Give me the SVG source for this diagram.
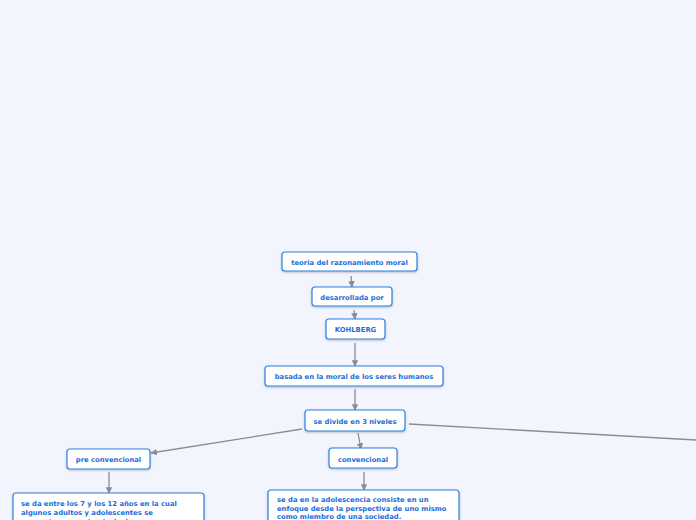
<svg xmlns="http://www.w3.org/2000/svg" width="696" height="520" viewBox="0 0 696 520">
<defs>
<marker id="ah" viewBox="0 0 10 10" refX="9" refY="5" markerWidth="5" markerHeight="5" orient="auto"><path d="M0,0 L10,5 L0,10 z" fill="#8a8c92"/></marker>
<filter id="sh" x="-10%" y="-20%" width="120%" height="150%"><feDropShadow dx="0" dy="1" stdDeviation="0.8" flood-color="#000" flood-opacity="0.25"/></filter>
</defs>
<style>
.n{fill:#fff;stroke:#2f80e0;stroke-width:1.2;filter:url(#sh)}
.t{font-family:"DejaVu Sans",Verdana,sans-serif;font-size:6.8px;font-weight:bold;fill:#1a6ed8}
.c{text-anchor:middle}
.e{stroke:#8a8c92;stroke-width:1.3;fill:none}
</style>
<rect width="696" height="520" fill="#f2f5fe"/>
<g id="connectors">
<line class="e" x1="351" y1="276" x2="352" y2="287" marker-end="url(#ah)"/>
<line class="e" x1="354" y1="310" x2="355" y2="319" marker-end="url(#ah)"/>
<line class="e" x1="355" y1="343" x2="355" y2="366" marker-end="url(#ah)"/>
<line class="e" x1="355" y1="389" x2="355" y2="410" marker-end="url(#ah)"/>
<line class="e" x1="358" y1="433" x2="361" y2="449" marker-end="url(#ah)"/>
<line class="e" x1="302" y1="429" x2="151" y2="453" marker-end="url(#ah)"/>
<line class="e" x1="409" y1="424" x2="696" y2="440"/>
<line class="e" x1="109" y1="472" x2="109" y2="493" marker-end="url(#ah)"/>
<line class="e" x1="364" y1="472" x2="364" y2="490" marker-end="url(#ah)"/>
</g>
<g id="n1"><rect class="n" x="282" y="252" width="135" height="19" rx="3"/><text class="t c" x="349.5" y="264.5">teoria del razonamiento moral</text></g>
<g id="n2"><rect class="n" x="312" y="287" width="80" height="19" rx="3"/><text class="t c" x="352" y="299.5">desarrollada por</text></g>
<g id="n3"><rect class="n" x="326" y="319" width="59" height="20" rx="3"/><text class="t c" x="355.5" y="332">KOHLBERG</text></g>
<g id="n4"><rect class="n" x="265" y="366" width="178" height="20" rx="3"/><text class="t c" x="354" y="379">basada en la moral de los seres humanos</text></g>
<g id="n5"><rect class="n" x="305" y="410" width="100" height="21" rx="3"/><text class="t c" x="355" y="423.5">se divide en 3 niveles</text></g>
<g id="n6"><rect class="n" x="329" y="448" width="68" height="20" rx="3"/><text class="t c" x="363" y="461.5">convencional</text></g>
<g id="n7"><rect class="n" x="67" y="449" width="83" height="20" rx="3"/><text class="t c" x="108.5" y="462">pre convencional</text></g>
<g id="n8"><rect class="n" x="13" y="493" width="191" height="40" rx="3"/><text class="t" x="21" y="506">se da entre los 7 y los 12 años en la cual</text><text class="t" x="21" y="515">algunos adultos y adolescentes se</text><text class="t" x="21" y="524">encuentran en este nivel y las personas</text></g>
<g id="n9"><rect class="n" x="268" y="490" width="191" height="40" rx="3"/><text class="t" x="277" y="502">se da en la adolescencia consiste en un</text><text class="t" x="277" y="510.5">enfoque desde la perspectiva de uno mismo</text><text class="t" x="277" y="519">como miembro de una sociedad.</text></g>
</svg>
